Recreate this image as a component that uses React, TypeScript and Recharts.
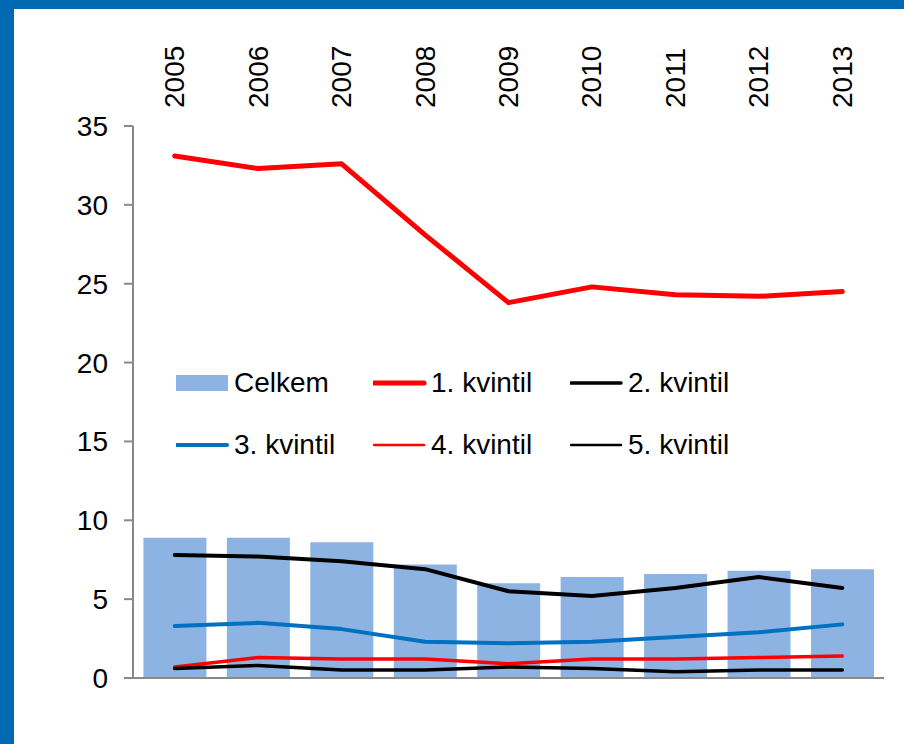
import { ComposedChart, Bar, Line, XAxis, YAxis } from "recharts";

const years = ["2005", "2006", "2007", "2008", "2009", "2010", "2011", "2012", "2013"];
const celkem = [8.9, 8.9, 8.6, 7.2, 6.0, 6.4, 6.6, 6.8, 6.9];
const kvintil1 = [33.1, 32.3, 32.6, 28.1, 23.8, 24.8, 24.3, 24.2, 24.5];
const kvintil2 = [7.8, 7.7, 7.4, 6.9, 5.5, 5.2, 5.7, 6.4, 5.7];
const kvintil3 = [3.3, 3.5, 3.1, 2.3, 2.2, 2.3, 2.6, 2.9, 3.4];
const kvintil4 = [0.7, 1.3, 1.2, 1.2, 0.9, 1.2, 1.2, 1.3, 1.4];
const kvintil5 = [0.6, 0.8, 0.5, 0.5, 0.7, 0.6, 0.4, 0.5, 0.5];
const yTicks = [0, 5, 10, 15, 20, 25, 30, 35];
const edgeTicks = [0, 1, 2, 3, 4, 5, 6, 7, 8, 9];

const data = years.map((year, i) => ({
  year,
  celkem: celkem[i],
  k1: kvintil1[i],
  k2: kvintil2[i],
  k3: kvintil3[i],
  k4: kvintil4[i],
  k5: kvintil5[i],
}));

const lines = [
  { key: "k1", name: "1. kvintil", color: "#FF0000", width: 5, legendWidth: 5 },
  { key: "k2", name: "2. kvintil", color: "#000000", width: 4, legendWidth: 3.5 },
  { key: "k3", name: "3. kvintil", color: "#0070C0", width: 4, legendWidth: 4 },
  { key: "k4", name: "4. kvintil", color: "#FF0000", width: 3.5, legendWidth: 2.5 },
  { key: "k5", name: "5. kvintil", color: "#000000", width: 3.5, legendWidth: 2.5 },
];

const YearTick = (props: any) => {
  const { x, y, payload } = props;
  return (
    <text
      x={x}
      y={y}
      transform={`rotate(-90, ${x}, ${y})`}
      textAnchor="start"
      dominantBaseline="central"
      fontSize={28}
      fill="#000"
    >
      {payload.value}
    </text>
  );
};

function ChartLegend() {
  const items = [
    { name: "Celkem", kind: "bar", color: "#8DB3E2", width: 0 },
    ...lines.map((l) => ({ name: l.name, kind: "line", color: l.color, width: l.legendWidth })),
  ];
  return (
    <div
      style={{
        position: "absolute",
        left: 176,
        top: 365,
        display: "grid",
        gridTemplateColumns: "197px 197px 197px",
        rowGap: 26,
      }}
    >
      {items.map((it) => (
        <div key={it.name} style={{ display: "flex", alignItems: "center", height: 36 }}>
          <svg width={58} height={20}>
            {it.kind === "bar" ? (
              <rect x={0} y={2} width={52} height={16} fill={it.color} />
            ) : (
              <line x1={1} y1={10} x2={51} y2={10} stroke={it.color} strokeWidth={it.width} strokeLinecap="round" />
            )}
          </svg>
          <span style={{ fontSize: 28, color: "#000", lineHeight: "36px" }}>{it.name}</span>
        </div>
      ))}
    </div>
  );
}

export default function App() {
  return (
    <div
      style={{
        position: "absolute",
        left: 0,
        top: 0,
        width: 904,
        height: 744,
        background: "#0069B1",
        fontFamily: "'Liberation Sans', Arial, sans-serif",
      }}
    >
      <div style={{ position: "absolute", left: 14, top: 9, right: 0, bottom: 0, background: "#fff" }} />
      <div style={{ position: "absolute", left: 0, top: 0 }}>
        <ComposedChart
          width={904}
          height={744}
          data={data}
          margin={{ top: 26, right: 20, bottom: 46, left: 73 }}
          barCategoryGap="12.5%"
          style={{ fontFamily: "'Liberation Sans', Arial, sans-serif" }}
        >
          <XAxis
            dataKey="year"
            orientation="top"
            height={100}
            axisLine={false}
            tickLine={false}
            tickSize={0}
            tickMargin={18}
            interval={0}
            tick={<YearTick />}
          />
          <XAxis
            xAxisId="edges"
            type="number"
            orientation="bottom"
            domain={[0, 9]}
            ticks={edgeTicks}
            tick={false}
            tickSize={9}
            height={20}
            axisLine={{ stroke: "#898989", strokeWidth: 2 }}
            tickLine={{ stroke: "#898989", strokeWidth: 2 }}
          />
          <YAxis
            width={60}
            domain={[0, 35]}
            ticks={yTicks}
            interval={0}
            tickSize={9}
            tickMargin={16}
            tick={{ fontSize: 28, fill: "#000" }}
            axisLine={{ stroke: "#898989", strokeWidth: 2 }}
            tickLine={{ stroke: "#898989", strokeWidth: 2 }}
          />
          <Bar dataKey="celkem" name="Celkem" fill="#8DB3E2" isAnimationActive={false} />
          {lines.map((l) => (
            <Line
              key={l.key}
              type="linear"
              dataKey={l.key}
              name={l.name}
              stroke={l.color}
              strokeWidth={l.width}
              strokeLinejoin="round"
              strokeLinecap="round"
              dot={false}
              activeDot={false}
              isAnimationActive={false}
            />
          ))}
        </ComposedChart>
      </div>
      <ChartLegend />
    </div>
  );
}
